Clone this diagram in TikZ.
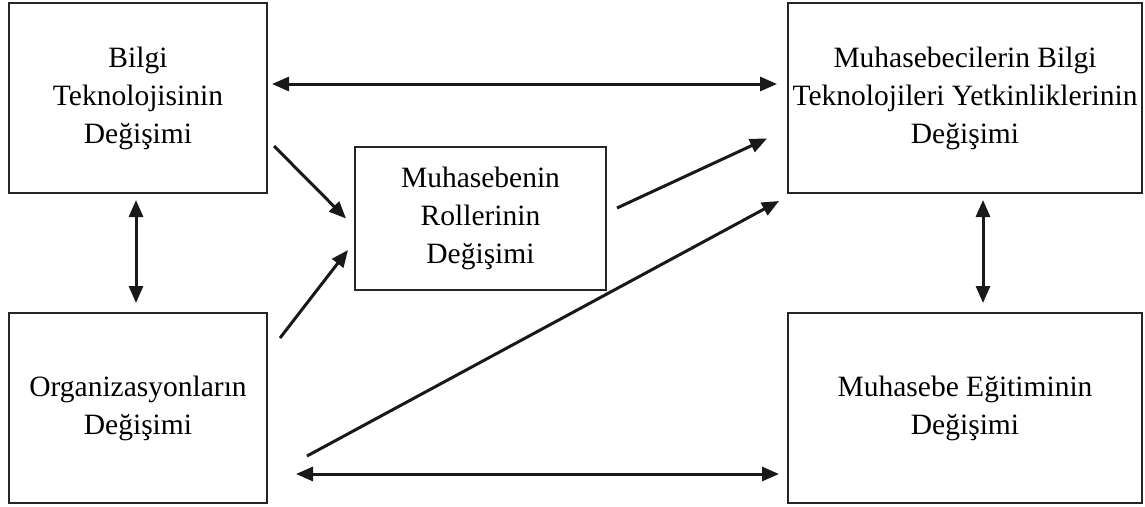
\documentclass[tikz,border=0pt]{standalone}
\usepackage{fontspec}
\setmainfont{Liberation Serif}
\usetikzlibrary{arrows.meta,positioning}
\tikzset{box/.style={rectangle,draw=black!85,line width=1.8pt,align=center,inner sep=0pt,outer sep=0pt,font=\fontsize{29.5}{38}\selectfont},
		post/.style={-{Triangle[length=17pt,width=14pt]},line width=3pt,draw=black!90},
		both/.style={{Triangle[length=17pt,width=14pt]}-{Triangle[length=17pt,width=14pt]},line width=3pt,draw=black!90}}

\begin{document}
\begin{tikzpicture}[x=1pt,y=-1pt,node distance=120pt and 521pt,
		side/.style={box,minimum width=258pt,minimum height=190pt},
		wide/.style={box,minimum width=354pt,minimum height=190pt}]
		\useasboundingbox (0,0) rectangle (1145,506);
		\node[side] (bilgi-tek) at (138,98) {Bilgi\\Teknolojisinin\\Değişimi};
		\node[side] (organizasyon) [below=of bilgi-tek] {Organizasyonların\\Değişimi};
		\node[wide] (yetkinlik) [right=of bilgi-tek] {Muhasebecilerin Bilgi\\Teknolojileri Yetkinliklerinin\\Değişimi};
		\node[wide] (egitim) [below=of yetkinlik] {Muhasebe Eğitiminin\\Değişimi};
		\node[box,minimum width=251pt,minimum height=143pt] (roller) at (480.5,218.5) {Muhasebenin\\Rollerinin\\Değişimi};
		
		\draw[both] ([shift={(5,-14)}]bilgi-tek.east) -- ([shift={(-11,-14)}]yetkinlik.west);
		\draw[both] ([shift={(-2,7)}]bilgi-tek.south) -- ([shift={(-2,-10)}]organizasyon.north);
		\draw[both] ([shift={(18,7)}]yetkinlik.south) -- ([shift={(18,-10)}]egitim.north);
		\draw[both] ([shift={(29,66)}]organizasyon.east) -- ([shift={(-9,66)}]egitim.west);
		
		\draw[post] ([shift={(7,48)}]bilgi-tek.east) -- ([shift={(-9,0)}]roller.west);
		\draw[post] ([shift={(13,-70)}]organizasyon.east) -- ([shift={(-7,31.5)}]roller.west);
		\draw[post] ([shift={(11,-10.5)}]roller.east) -- ([shift={(-21,40.5)}]yetkinlik.west);
		\draw[post] ([shift={(40,48)}]organizasyon.east) -- ([shift={(-9,8)}]yetkinlik.south west);
	\end{tikzpicture}
\end{document}
